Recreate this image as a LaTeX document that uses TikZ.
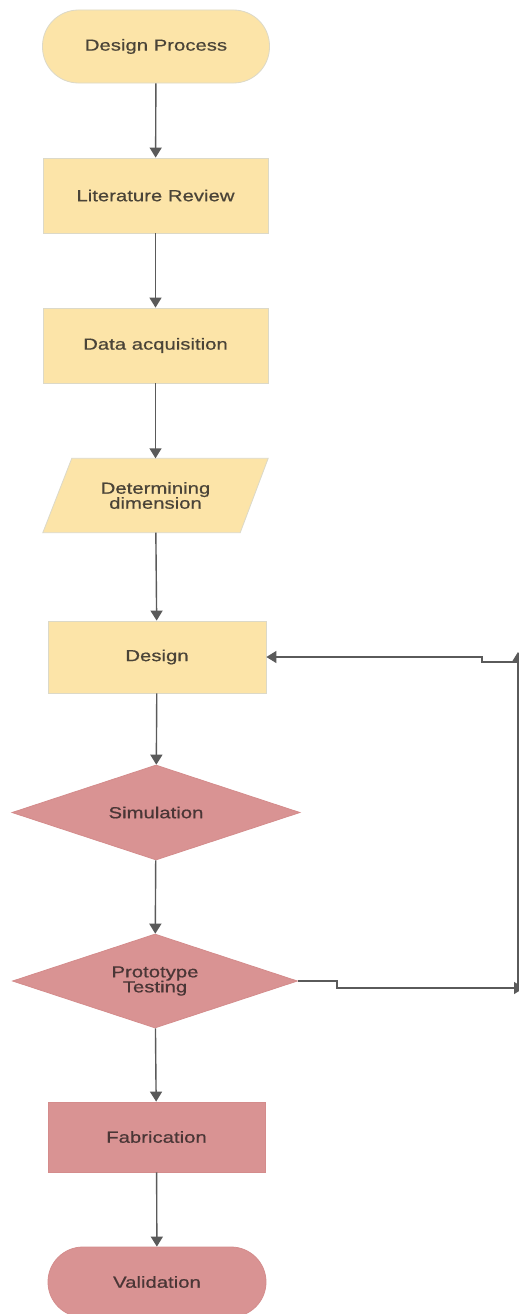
\documentclass[tikz,border=0pt]{standalone}
\usepackage{fontspec}
\setmainfont{Liberation Sans}[FakeStretch=1.27,FakeBold=0.6]
\usetikzlibrary{shapes.geometric,arrows.meta,backgrounds}
\definecolor{ylw}{HTML}{FCE4A8}
\definecolor{ylwb}{HTML}{DCD9C8}
\definecolor{pnk}{HTML}{D99393}
\definecolor{pnkb}{HTML}{D48C8C}
\definecolor{arrc}{HTML}{5A5A5A}
\definecolor{txty}{HTML}{4A4438}
\definecolor{txtp}{HTML}{4A3636}
\begin{document}
\begin{tikzpicture}[x=1pt,y=-1pt,
  base/.style={font=\fontsize{16}{15}\selectfont, align=center, inner sep=0pt},
  ybox/.style={base, rectangle, fill=ylw, draw=ylwb, line width=0.8pt, text=txty},
  pbox/.style={base, rectangle, fill=pnk, draw=pnkb, line width=0.8pt, text=txtp},
  pdia/.style={base, diamond, aspect=3, fill=pnk, draw=pnkb, line width=0.8pt, text=txtp},
  conn/.style={draw=arrc, line width=1.4pt, -{Triangle[width=12pt,length=10pt]}},
  plain/.style={draw=arrc, line width=1.4pt}]
\useasboundingbox (0,0) rectangle (519,1314);
\clip (0,0) rectangle (519,1314);

\node[ybox, minimum width=227pt, minimum height=73pt, rounded corners=36pt] (dp) at (156,46.5) {Design Process};
\node[ybox, minimum width=225pt, minimum height=75pt] (lr) at (155.5,195.5) {Literature Review};
\node[ybox, minimum width=225pt, minimum height=75pt] (da) at (155.5,345.5) {Data acquisition};
\node[base, text=txty, minimum width=225pt, minimum height=74pt] (dd) at (155.5,495.5) {Determining\\dimension};
\node[ybox, minimum width=218pt, minimum height=72pt] (de) at (157,657) {Design};
\node[pdia, minimum width=288pt, minimum height=95pt] (sim) at (156,812.5) {Simulation};
\node[pdia, minimum width=285pt, minimum height=94pt] (pt) at (155,981) {Prototype\\Testing};
\node[pbox, minimum width=217pt, minimum height=70pt] (fab) at (156.5,1137) {Fabrication};
\node[pbox, minimum width=218pt, minimum height=70pt, rounded corners=35pt] (val) at (157,1282) {Validation};

\begin{scope}[on background layer]
  \fill[white] (0,0) rectangle (519,1314);
  \filldraw[fill=ylw, draw=ylwb, line width=0.8pt]
    ([xshift=29pt]dd.north west) -- (dd.north east) -- ([xshift=-28pt]dd.south east) -- (dd.south west) -- cycle;
\end{scope}

\draw[conn] (dp) -- (lr);
\draw[conn] (lr) -- (da);
\draw[conn] (da) -- (dd);
\draw[conn] (dd) -- (de);
\draw[conn] (de) -- (sim);
\draw[conn] (sim) -- (pt);
\draw[conn] (pt) -- (fab);
\draw[conn] (fab) -- (val);

\coordinate (k1) at (337,981);
\coordinate (k2) at (337,988);
\coordinate (c1) at (524,988);
\coordinate (v1) at (518,988);
\coordinate (v2) at (518,652);
\coordinate (h1) at (518,662);
\coordinate (h2) at (482,662);
\draw[conn] (pt.east) -- (k1) -- (k2) -- (c1);
\draw[conn] (v1) -- (v2);
\draw[conn] (h1) -- (h2) -- (h2 |- de.east) -- (de.east);
\end{tikzpicture}
\end{document}
